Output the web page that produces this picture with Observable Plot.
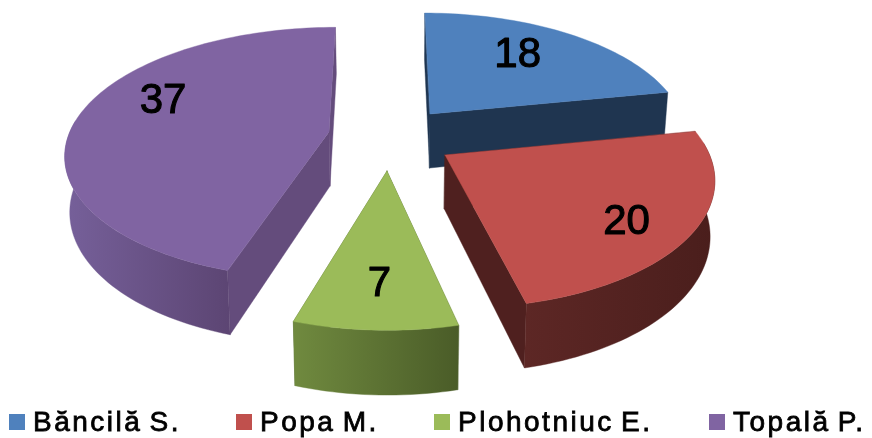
<!DOCTYPE html>
<html>
<head>
<meta charset="utf-8">
<script src="https://cdn.jsdelivr.net/npm/d3@7"></script>
<script src="https://cdn.jsdelivr.net/npm/@observablehq/plot@0.6"></script>
<style>
  html, body { margin: 0; padding: 0; background: #fff; }
  #chart svg { display: block; filter: blur(0.4px); }
  #legend { position: relative; width: 872px; height: 38px; font-family: "Liberation Sans", Arial, sans-serif; font-size: 28px; color: #000; filter: blur(0.3px); }
  #legend .item { position: absolute; top: 3px; height: 38px; display: flex; align-items: center; white-space: nowrap; letter-spacing: 2.5px; word-spacing: -3px; -webkit-text-stroke: 0.8px #000; }
  #legend .key { width: 16px; height: 16px; margin-right: 8px; display: inline-block; }
</style>
</head>
<body>
<div id="chart"></div>
<div id="legend"></div>
<script>
// Data
const names = ["Băncilă S.", "Popa M.", "Plohotniuc E.", "Topală P."];
const values = [18, 20, 7, 37];

// Styles
const topColors = ["#4f81bd", "#c0504d", "#9bbb59", "#8064a2"];
const radialColors = ["#1f3550", "#4f201f", "#4f6330", "#644c7c"];
const arcGradients = [["#1f3550", "#1f3550"], ["#5d2725", "#4a1e1c"], ["#708a3f", "#4a5c28"], ["#76609a", "#5c4573"]];

// Layout of the exploded pie
const W = 872, H = 400;
const apexX = [430, 445, 387, 329];
const apexY = [114, 155, 171, 132];
const sliceScaleX = [0.93, 0.98, 0.97, 0.96];
const sliceScaleY = [0.95, 1.03, 1.07, 0.985];
const labelAngle = [0.44, 0.55, 0.5, 0.583];
const labelRadius = [0.69, 0.775, 0.735, 0.735];
const R = 270, tilt = 124, persp = 0.167, depth = 54, vanishX = 385, vanishLean = 0.015;

const arcs = d3.pie().sort(null).startAngle(0).endAngle(2 * Math.PI)(values);

function project(i, theta, r, bottom) {
  const X = Math.sin(theta) * r, Y = Math.cos(theta) * r;
  const k = 1 / (1 + persp * Y);
  let x = apexX[i] + R * sliceScaleX[i] * X * k + (apexX[i] - vanishX) * (k - 1) * 0.8;
  let y = apexY[i] - tilt * sliceScaleY[i] * Y * k;
  if (bottom) { x += (400 - x) * vanishLean; y += depth * k; }
  return [x, y];
}

function angles(a, b) {
  const n = Math.max(2, Math.ceil((b - a) / (Math.PI / 120)));
  return d3.range(n + 1).map(j => a + (b - a) * j / n);
}
function ribbon(p, q) {
  return p.map((pt, j) => ({x1: pt[0], y1: pt[1], x2: q[j][0], y2: q[j][1]}));
}
const area = (rows, fill) => Plot.area(rows, {x1: "x1", y1: "y1", x2: "x2", y2: "y2", fill, stroke: fill, strokeWidth: 0.4});

const defs = () => {
  const d = d3.create("svg:defs");
  arcGradients.forEach((g, i) => {
    const lg = d.append("linearGradient").attr("id", "arc" + i);
    lg.append("stop").attr("offset", "0%").attr("stop-color", g[0]);
    lg.append("stop").attr("offset", "100%").attr("stop-color", g[1]);
  });
  return d.node();
};

const marks = [defs];
for (const i of [0, 3, 1, 2]) {
  const {startAngle: a0, endAngle: a1} = arcs[i];
  // radial faces
  for (const t of [a0, a1]) {
    const rs = [0, 1];
    marks.push(area(ribbon(rs.map(r => project(i, t, r, false)), rs.map(r => project(i, t, r, true))), radialColors[i]));
  }
  // outer wall, front part only
  const lo = Math.max(a0, Math.PI * 0.47), hi = Math.min(a1, Math.PI * 1.53);
  if (hi > lo) {
    const ts = angles(lo, hi);
    marks.push(area(ribbon(ts.map(t => project(i, t, 1, false)), ts.map(t => project(i, t, 1, true))), `url(#arc${i})`));
  }
  // top face
  const ts = angles(a0, a1);
  const apex = project(i, 0, 0, false);
  marks.push(area(ribbon(ts.map(() => apex), ts.map(t => project(i, t, 1, false))), topColors[i]));
}

const labels = arcs.map((d, i) => {
  const [x, y] = project(i, d.startAngle + (d.endAngle - d.startAngle) * labelAngle[i], labelRadius[i], false);
  return {x, y, value: d.value};
});
marks.push(Plot.text(labels, {
  x: "x", y: "y", text: d => String(d.value),
  fontSize: 42, fontFamily: "Liberation Sans", fill: "#000", stroke: "#000", strokeWidth: 1.1,
  textAnchor: "middle", lineAnchor: "middle"
}));

const plot = Plot.plot({
  width: W, height: H,
  margin: 0,
  x: {domain: [0, W], range: [0, W], axis: null},
  y: {domain: [0, H], range: [0, H], axis: null},
  marks
});
document.getElementById("chart").append(plot);

// Legend
const legendLeft = [9, 236, 434, 709];
const legend = d3.select("#legend");
names.forEach((n, i) => {
  const it = legend.append("div").attr("class", "item").style("left", legendLeft[i] + "px");
  it.append("span").attr("class", "key").style("background", topColors[i]);
  it.append("span").text(n);
});
</script>
</body>
</html>
